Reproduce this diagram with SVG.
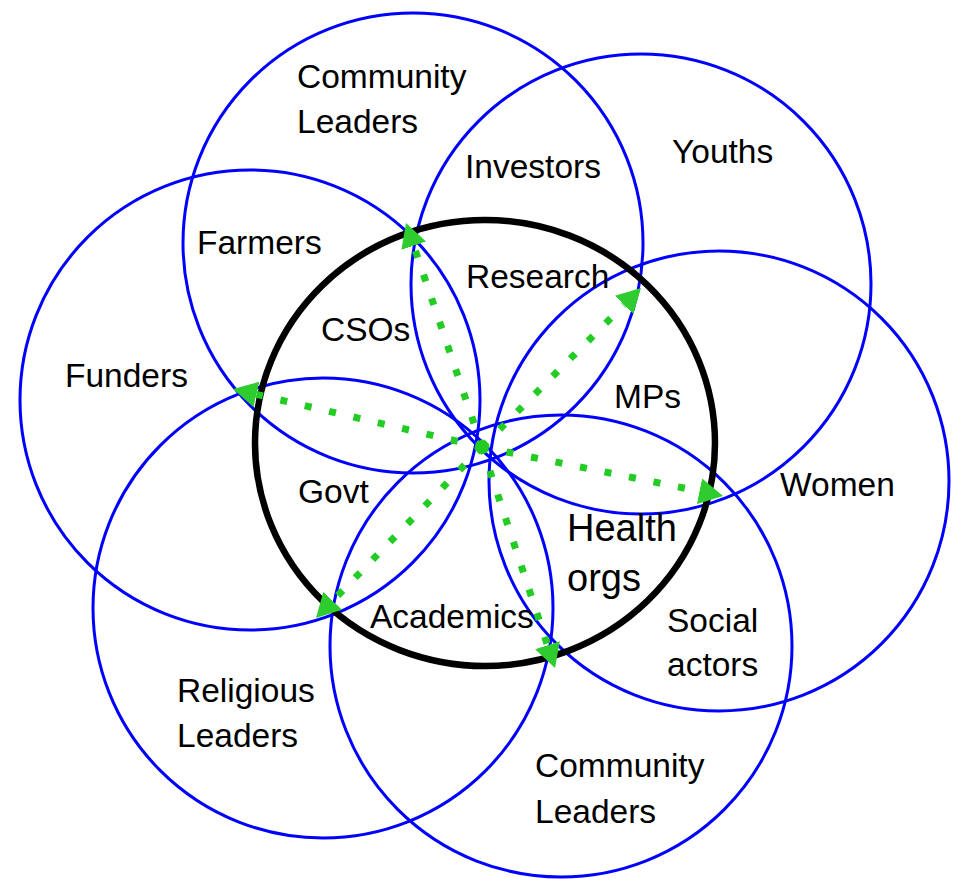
<svg xmlns="http://www.w3.org/2000/svg" width="962" height="886" viewBox="0 0 962 886">
<defs>
<marker id="ah" markerUnits="userSpaceOnUse" markerWidth="26" markerHeight="26" viewBox="0 0 26 26" refX="0" refY="13" orient="auto"><path d="M0,0 L24,13 L0,26 Z" fill="#2ecc2e"/></marker>
<style>
.ring{fill:none;stroke:#0000ff;stroke-width:3}
.hub{fill:none;stroke:#000000;stroke-width:6.5}
.flow{fill:none;stroke:#22cc22;stroke-width:7;stroke-dasharray:7 18;marker-end:url(#ah)}
text{font-family:"Liberation Sans",Arial,sans-serif;font-size:33.5px;fill:#000000}
.big{font-size:38px}
</style>
</defs>
<rect width="962" height="886" fill="#ffffff"/>
<g id="circle-community-top"><circle class="ring" cx="413" cy="243" r="230"/></g>
<g id="circle-youths"><circle class="ring" cx="641" cy="284" r="230"/></g>
<g id="circle-women"><circle class="ring" cx="719" cy="481" r="230"/></g>
<g id="circle-community-bottom"><circle class="ring" cx="561" cy="646" r="231"/></g>
<g id="circle-religious"><circle class="ring" cx="323" cy="608" r="230"/></g>
<g id="circle-funders"><circle class="ring" cx="250" cy="400" r="230"/></g>
<g id="hub"><ellipse class="hub" cx="485" cy="443" rx="230" ry="223"/></g>
<g id="connectors">
<line class="flow" x1="482" y1="447" x2="413.7" y2="245.7"/>
<line class="flow" x1="482" y1="447" x2="624" y2="305"/>
<line class="flow" x1="482" y1="447" x2="699.5" y2="491.2"/>
<line class="flow" x1="482" y1="447" x2="547.5" y2="645.2"/>
<line class="flow" x1="482" y1="447" x2="332.7" y2="600.8"/>
<line class="flow" x1="482" y1="447" x2="256.4" y2="394.4"/>
</g>
<g id="label-community-top"><text x="297" y="88">Community</text><text x="297" y="133">Leaders</text></g>
<g id="label-investors"><text x="465" y="178">Investors</text></g>
<g id="label-youths"><text x="672" y="163">Youths</text></g>
<g id="label-farmers"><text x="197" y="254">Farmers</text></g>
<g id="label-research"><text x="466" y="288">Research</text></g>
<g id="label-csos"><text x="321" y="341">CSOs</text></g>
<g id="label-funders"><text x="65" y="387">Funders</text></g>
<g id="label-mps"><text x="614" y="408">MPs</text></g>
<g id="label-women"><text x="780" y="496">Women</text></g>
<g id="label-govt"><text x="298" y="503">Govt</text></g>
<g id="label-health"><text class="big" x="567" y="541">Health</text><text class="big" x="567" y="591">orgs</text></g>
<g id="label-academics"><text x="370" y="628">Academics</text></g>
<g id="label-social"><text x="667" y="632">Social</text><text x="667" y="676">actors</text></g>
<g id="label-religious"><text x="177" y="702">Religious</text><text x="177" y="747">Leaders</text></g>
<g id="label-community-bottom"><text x="535" y="777">Community</text><text x="535" y="823">Leaders</text></g>
</svg>
